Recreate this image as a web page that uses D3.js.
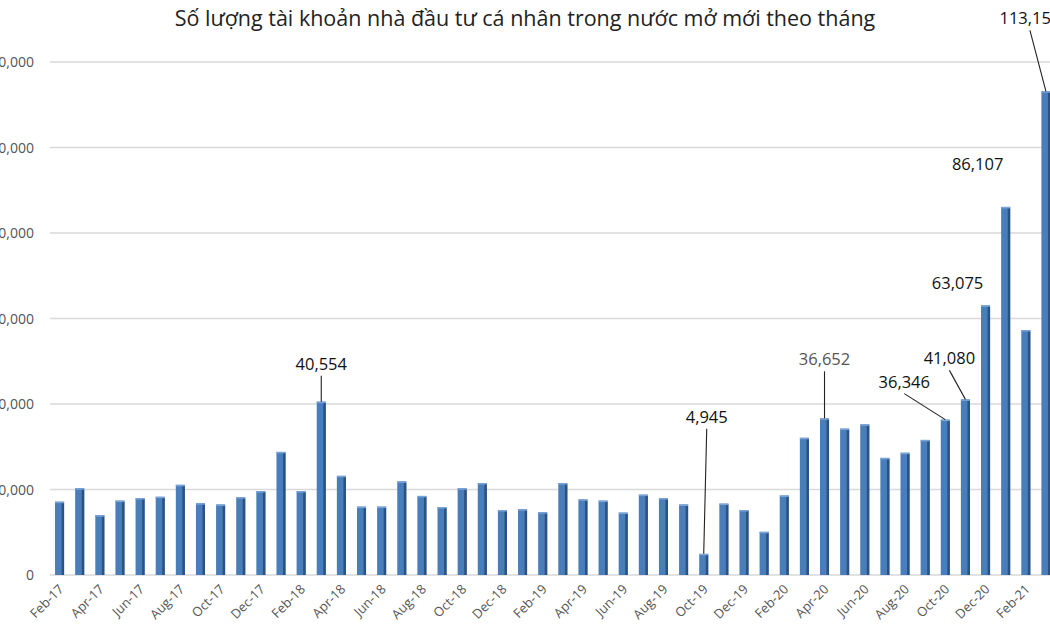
<!DOCTYPE html>
<html><head><meta charset="utf-8">
<script src="https://cdn.jsdelivr.net/npm/d3@7"></script>
<style>body{margin:0;background:#fff}svg{display:block;font-family:"Open Sans","Liberation Sans",sans-serif}</style>
</head><body><svg id="c" width="1050" height="630"></svg>
<script>
var months = ["Feb-17","Mar-17","Apr-17","May-17","Jun-17","Jul-17","Aug-17","Sep-17","Oct-17","Nov-17","Dec-17",
  "Jan-18","Feb-18","Mar-18","Apr-18","May-18","Jun-18","Jul-18","Aug-18","Sep-18","Oct-18","Nov-18","Dec-18",
  "Jan-19","Feb-19","Mar-19","Apr-19","May-19","Jun-19","Jul-19","Aug-19","Sep-19","Oct-19","Nov-19","Dec-19",
  "Jan-20","Feb-20","Mar-20","Apr-20","May-20","Jun-20","Jul-20","Aug-20","Sep-20","Oct-20","Nov-20","Dec-20",
  "Jan-21","Feb-21","Mar-21"];
var accounts = [17150,20300,14000,17400,18000,18300,21100,16800,16500,18200,19650,
  28800,19650,40554,23200,16000,16000,21900,18500,15900,20300,21500,15200,
  15400,14700,21500,17700,17400,14600,18800,18000,16500,4945,16700,15200,
  10100,18600,32100,36652,34250,35250,27400,28600,31600,36346,41080,63075,
  86107,57300,113150];
var yTicks = [0,20000,40000,60000,80000,100000,120000];
// labelled months and where the label sits relative to the bar top [dx, dy, leader]
var callouts = [["Mar-18",0,-38,true],["Oct-19",3,-137,true],["Apr-20",0,-59,true],
  ["Oct-20",-41,-38,true],["Nov-20",-16,-41,true],["Dec-20",-28,-22,false],
  ["Jan-21",-28,-43,false],["Mar-21",-16,-73,true]];

var svg = d3.select("#c");
var x = d3.scaleBand().domain(months).range([50, 1055.5]).paddingInner(0.55).paddingOuter(0.25);
var y = d3.scaleLinear().domain([0,120000]).range([575, 62]);
var fmt = d3.format(",");

svg.append("text").attr("x",525).attr("y",26).attr("text-anchor","middle")
  .attr("font-size",21.5).attr("fill","#222").text("Số lượng tài khoản nhà đầu tư cá nhân trong nước mở mới theo tháng");

svg.append("g").selectAll("line").data(yTicks).join("line")
  .attr("x1",50).attr("x2",1050).attr("y1",d=>y(d)).attr("y2",d=>y(d))
  .attr("stroke","#d9d9d9").attr("stroke-width",1.3);
svg.append("g").selectAll("text").data(yTicks).join("text")
  .attr("x",34).attr("y",d=>y(d)+5).attr("text-anchor","end")
  .attr("font-size",14).attr("fill","#555").text(d=>fmt(d));

var bars = svg.append("g").selectAll("g").data(months).join("g");
bars.append("rect").attr("x",d=>x(d)).attr("width",x.bandwidth())
  .attr("y",(d,i)=>y(accounts[i])).attr("height",(d,i)=>575-y(accounts[i]))
  .attr("fill","#4a7ebb");
bars.append("rect").attr("x",d=>x(d)+x.bandwidth()-2.5).attr("width",2.5)
  .attr("y",(d,i)=>y(accounts[i])+1).attr("height",(d,i)=>574-y(accounts[i]))
  .attr("fill","#2c5282");
bars.append("rect").attr("x",d=>x(d)).attr("width",x.bandwidth())
  .attr("y",(d,i)=>y(accounts[i])).attr("height",1.5).attr("fill","#7aa3d6");

svg.append("g").selectAll("text").data(months.filter((d,i)=>i%2==0)).join("text")
  .attr("transform",d=>"translate("+(x(d)+x.bandwidth()/2+5)+",590) rotate(-45)")
  .attr("text-anchor","end").attr("font-size",13).attr("fill","#555").text(d=>d);

var cg = svg.append("g").selectAll("g").data(callouts).join("g");
cg.each(function(c){
  var i = months.indexOf(c[0]), bx = x(c[0])+x.bandwidth()/2, by = y(accounts[i]);
  var g = d3.select(this);
  if(c[3]) g.append("line").attr("x1",bx+c[1]).attr("y1",by+c[2]+12)
    .attr("x2",bx).attr("y2",by).attr("stroke","#222").attr("stroke-width",1.1);
  g.append("text").attr("x",bx+c[1]).attr("y",by+c[2]+6).attr("text-anchor","middle")
    .attr("font-size",16.5).attr("fill",c[0]=="Apr-20"?"#555":"#111").text(fmt(accounts[i]));
});
</script></body></html>
